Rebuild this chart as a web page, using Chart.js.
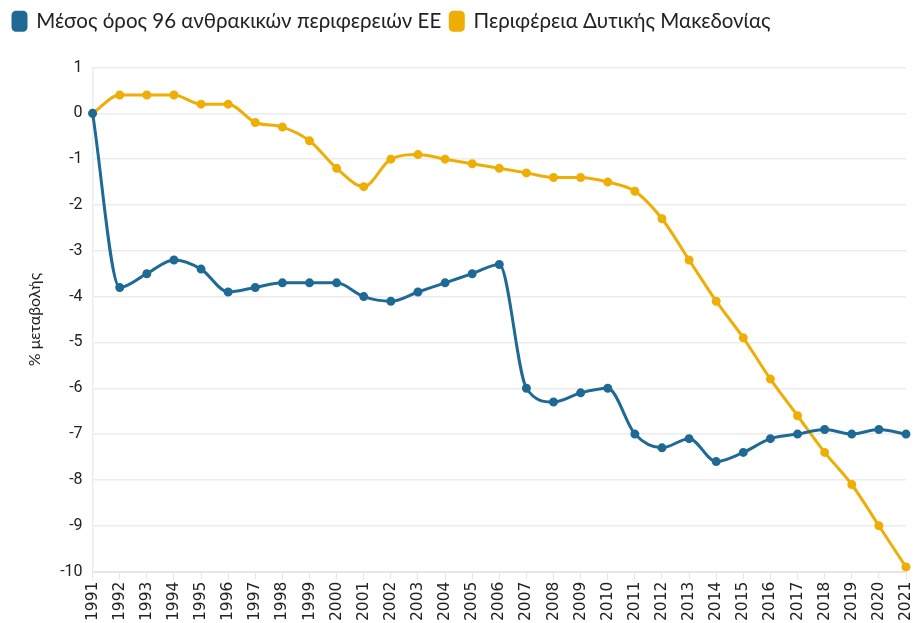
<!DOCTYPE html>
<html>
<head>
<meta charset="utf-8">
<script src="https://cdn.jsdelivr.net/npm/chart.js@4"></script>
<style>
  html, body { margin: 0; padding: 0; background: #fff; }
  #wrap { width: 914px; height: 623px; }
</style>
</head>
<body>
<div id="wrap"><canvas id="chart"></canvas></div>
<script>
const years = ['1991','1992','1993','1994','1995','1996','1997','1998','1999','2000','2001','2002','2003','2004','2005','2006','2007','2008','2009','2010','2011','2012','2013','2014','2015','2016','2017','2018','2019','2020','2021'];
const euAverage = [0,-3.8,-3.5,-3.2,-3.4,-3.9,-3.8,-3.7,-3.7,-3.7,-4.0,-4.1,-3.9,-3.7,-3.5,-3.3,-6.0,-6.3,-6.1,-6.0,-7.0,-7.3,-7.1,-7.6,-7.4,-7.1,-7.0,-6.9,-7.0,-6.9,-7.0];
const westMacedonia = [0,0.4,0.4,0.4,0.2,0.2,-0.2,-0.3,-0.6,-1.2,-1.6,-1.0,-0.9,-1.0,-1.1,-1.2,-1.3,-1.4,-1.4,-1.5,-1.7,-2.3,-3.2,-4.1,-4.9,-5.8,-6.6,-7.4,-8.1,-9.0,-9.9];
const seriesNames = ['Μέσος όρος 96 ανθρακικών περιφερειών ΕΕ', 'Περιφέρεια Δυτικής Μακεδονίας'];
const yTitle = '% μεταβολής';

const blue = '#1f6a95';
const orange = '#efae06';

function lineSet(label, data, color) {
  return {
    label, data,
    borderColor: color, backgroundColor: color,
    borderWidth: 3, pointRadius: 3, pointHoverRadius: 4,
    cubicInterpolationMode: 'monotone'
  };
}

// extra room under the legend
const legendGap = {
  id: 'legendGap',
  beforeInit(chart) {
    const fit = chart.legend.fit;
    chart.legend.fit = function () {
      fit.call(this);
      this.height += 26;
    };
  }
};

new Chart(document.getElementById('chart'), {
  type: 'line',
  data: {
    labels: years,
    datasets: [
      lineSet(seriesNames[0], euAverage, blue),
      lineSet(seriesNames[1], westMacedonia, orange)
    ]
  },
  options: {
    responsive: true,
    maintainAspectRatio: false,
    animation: false,
    layout: { padding: { left: 4, right: 0, top: 2, bottom: 0 } },
    plugins: {
      tooltip: { enabled: false },
      legend: {
        position: 'top',
        align: 'start',
        labels: {
          boxWidth: 13, boxHeight: 18, useBorderRadius: true, borderRadius: 3,
          padding: 9,
          color: '#222',
          font: { family: 'Lato', size: 20.5 }
        }
      }
    },
    scales: {
      x: {
        offset: false,
        afterFit(scale) { scale.paddingRight = 8; },
        grid: { display: true, drawOnChartArea: false, drawTicks: true, tickLength: 8, color: '#e6e6e6' },
        border: { display: true, color: '#e6e6e6', width: 2 },
        ticks: {
          autoSkip: false, maxRotation: 90, minRotation: 90,
          color: '#222', font: { family: 'DejaVu Sans', size: 15.5 }, padding: 2
        }
      },
      y: {
        min: -10, max: 1,
        ticks: { stepSize: 1, color: '#222', font: { family: 'Roboto', size: 16 }, padding: 10 },
        grid: { color: '#ececec', lineWidth: 1.5, drawTicks: false },
        border: { display: true, color: '#ececec', width: 1.5 },
        title: { display: true, text: yTitle, color: '#222', font: { family: 'Lato', size: 16 }, padding: { top: 21, bottom: 6 } }
      }
    }
  },
  plugins: [legendGap]
});
</script>
</body>
</html>
